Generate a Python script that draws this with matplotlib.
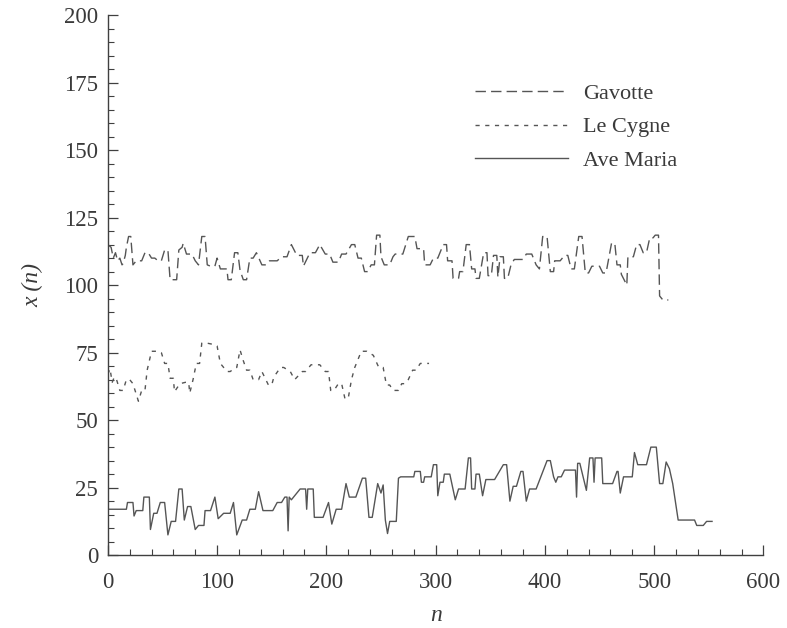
import matplotlib
matplotlib.use("Agg")
import matplotlib.pyplot as plt
from matplotlib.ticker import MultipleLocator

# ---- data ----
gav_n = [0, 3, 5, 7, 9, 11, 13, 14, 16, 17, 19, 21, 23, 26, 31, 34, 37, 40, 43, 46, 49, 52, 55, 57, 63,
         65, 68, 69, 72, 77, 80, 83, 86, 89, 91, 94, 98, 100, 103, 109, 110, 113, 116, 119, 121, 124, 127,
         130, 133, 136, 141, 145, 148, 155, 159, 164, 168, 173, 178, 179, 185, 190, 194, 199, 203, 206, 211,
         214, 218, 223, 226, 229, 232, 235, 238, 241, 244, 246, 249, 250, 253, 258, 261, 263, 270, 275, 281,
         283, 289, 290, 295, 298, 302, 307, 310, 311, 315, 316, 321, 322, 325, 328, 331, 333, 336, 337, 340,
         344, 347, 348, 351, 353, 356, 357, 359, 362, 363, 366, 369, 372, 380, 383, 388, 392, 395, 398, 402,
         405, 408, 409, 414, 418, 421, 424, 427, 431, 434, 437, 440, 443, 450, 453, 456, 461, 464, 466, 469,
         470, 475, 476, 481, 484, 487, 490, 493, 496, 499, 501, 504, 505, 508, 513]
gav_x = [115, 114, 110, 112, 109, 110, 107.5, 108, 111, 114, 118, 118, 107.5, 109, 109, 112, 112, 110, 110,
         109, 109, 113, 113, 102, 102, 113, 114, 115.5, 111.5, 111.5, 109, 107.5, 118, 118, 107.5, 107, 107,
         110, 106, 106, 102, 102, 112, 112, 105.5, 102, 102, 110, 110, 112, 107.5, 107.5, 109, 109, 110.5,
         110.5, 115, 111, 111, 107, 112, 112, 115, 111.5, 111.5, 108.5, 108.5, 111.5, 111.5, 115, 115, 110,
         110, 105, 105, 107.5, 107.5, 118.5, 118.5, 110.5, 107.5, 107.5, 110.5, 111.5, 111.5, 118, 118,
         113.5, 113.5, 107.5, 107.5, 110, 110, 115, 115, 109, 109, 102.5, 102.5, 105, 105, 115, 115, 106,
         106, 102.5, 102.5, 112, 112, 103.5, 103.5, 111, 111, 103, 110.5, 110.5, 102.5, 102.5, 107.5, 109.5,
         109.5, 111.5, 111.5, 107.5, 106, 118, 118, 105, 105, 109, 109, 111, 111, 106, 106, 118, 118, 104.5,
         104.5, 107, 107, 104.5, 104.5, 115.5, 115.5, 107.5, 107.5, 104, 100, 110.5, 110.5, 115, 115, 112,
         112, 117.5, 117.5, 118.5, 118.5, 96, 94.5, 94.5]

cyg_n = [0, 2, 4, 6, 8, 11, 14, 17, 20, 23, 28, 31, 34, 36, 40, 43, 46, 49, 52, 55, 57, 60, 61, 66, 71, 74,
         75, 78, 81, 84, 86, 91, 97, 100, 103, 109, 112, 117, 118, 121, 124, 127, 130, 133, 138, 141, 147,
         150, 152, 158, 161, 167, 171, 178, 181, 186, 194, 199, 202, 204, 207, 211, 214, 217, 220, 223, 226,
         232, 237, 243, 248, 252, 255, 258, 261, 266, 269, 272, 275, 279, 282, 286, 294]
cyg_x = [67, 69, 64, 66, 65, 61, 61, 65, 65, 63.5, 57, 61, 61, 68.5, 75.5, 75.5, 75.5, 75, 71, 71, 65.5,
         65.5, 60.5, 63.5, 64, 64, 60, 65, 71, 71, 78.5, 78.5, 78, 77.5, 71, 68, 68, 69.5, 69.5, 76, 72,
         68.5, 68.5, 65, 65, 68, 63, 63, 66, 69.5, 69.5, 68, 65, 68, 68, 70.5, 70.5, 68, 68, 61, 61, 63.5,
         63.5, 58, 58, 65, 69.5, 75.5, 75.5, 74, 69.5, 69.5, 63, 63, 61, 61, 63.5, 63.5, 65, 68.5, 68.5,
         71, 71]

ave_n = [0, 17, 18, 23, 24, 26, 32, 33, 38, 39, 42, 45, 48, 52, 55, 58, 62, 65, 68, 70, 73, 76, 80, 83,
         88, 89, 94, 98, 101, 106, 112, 115, 118, 123, 127, 130, 135, 138, 142, 151, 155, 159, 162, 164,
         165, 166, 168, 176, 181, 182, 183, 188, 189, 197, 202, 205, 209, 214, 218, 221, 227, 233, 236,
         239, 242, 247, 250, 252, 254, 256, 258, 264, 266, 268, 280, 281, 286, 287, 289, 290, 296, 298,
         301, 302, 304, 307, 308, 313, 318, 321, 327, 330, 332, 333, 336, 337, 340, 343, 346, 354, 362,
         365, 368, 371, 374, 378, 380, 383, 386, 392, 402, 405, 408, 410, 412, 415, 418, 428, 429, 430,
         432, 438, 441, 444, 445, 446, 452, 453, 462, 466, 467, 469, 472, 480, 482, 485, 493, 497, 502,
         505, 508, 511, 514, 517, 522, 537, 539, 545, 548, 553]
ave_x = [17, 17, 19.5, 19.5, 14.5, 16.5, 16.5, 21.5, 21.5, 9.5, 15.5, 15.5, 19.5, 19.5, 7.5, 12.5, 12.5,
         24.5, 24.5, 13, 18, 18, 9.5, 11, 11, 16.5, 16.5, 21.5, 13.5, 15.5, 15.5, 19.5, 7.5, 13, 13, 17,
         17, 23.5, 16.5, 16.5, 19.5, 19.5, 21.5, 21.5, 9, 21.5, 20.5, 24.5, 24.5, 17, 24.5, 24.5, 14, 14,
         19.5, 11.5, 17, 17, 26.5, 21.5, 21.5, 28.5, 28.5, 14, 14, 26.5, 23, 26, 13, 8, 12.5, 12.5, 28.5,
         29, 29, 31, 31, 27, 27, 29, 29, 33.5, 33.5, 22, 27, 27, 30, 30, 20.5, 24.5, 24.5, 36, 36, 24.5,
         24.5, 30, 30, 22, 28, 28, 33.5, 33.5, 20, 25.5, 25.5, 31, 31, 20, 24.5, 24.5, 35, 35, 29, 27, 29,
         29, 31.5, 31.5, 21.5, 34, 34, 24, 36, 36, 27, 36, 36, 26.5, 26.5, 31, 31, 23, 29, 29, 38, 33.5,
         33.5, 40, 40, 26.5, 26.5, 34.5, 32, 26.5, 13, 13, 11, 11, 12.5, 12.5]

series_names = ["Gavotte", "Le Cygne", "Ave Maria"]
x_ticks = [0, 100, 200, 300, 400, 500, 600]
y_ticks = [0, 25, 50, 75, 100, 125, 150, 175, 200]

# ---- figure ----
plt.rcParams['font.family'] = ['Liberation Serif', 'DejaVu Serif']
fig = plt.figure(figsize=(7.87, 6.28), dpi=100)
ax = fig.add_axes([0.137, 0.116, 0.833, 0.860])

col = "#555555"
ax.plot(gav_n, gav_x, color=col, lw=1.0, linestyle=(0, (7.5, 3.7)), label=series_names[0])
ax.plot(cyg_n, cyg_x, color=col, lw=1.0, linestyle=(0, (3.0, 4.0)), label=series_names[1])
ax.plot(ave_n, ave_x, color=col, lw=1.0, linestyle='-', label=series_names[2])

ax.set_xlim(0, 600)
ax.set_ylim(0, 200)
ax.set_xticks(x_ticks)
ax.set_yticks(y_ticks)
ax.xaxis.set_minor_locator(MultipleLocator(20))
ax.yaxis.set_minor_locator(MultipleLocator(5))
ax.tick_params(which='both', direction='in', colors='#404040', labelcolor='#3a3a3a', labelsize=16.5)
ax.tick_params(which='major', length=7, width=0.9)
ax.tick_params(which='minor', length=4, width=0.8)
ax.tick_params(axis='x', which='major', pad=12)
ax.tick_params(axis='y', which='major', pad=7)
for s in ['top', 'right']:
    ax.spines[s].set_visible(False)
for s in ['left', 'bottom']:
    ax.spines[s].set_color('#404040')
    ax.spines[s].set_linewidth(1.0)

ax.set_xlabel("n", fontstyle='italic', fontsize=17, color='#3a3a3a', labelpad=9)
ax.set_ylabel("x (n)", fontstyle='italic', fontsize=17, color='#3a3a3a', labelpad=15)

leg = ax.legend(loc='upper left', bbox_to_anchor=(0.56, 0.873), frameon=False,
                handlelength=4.2, handletextpad=0.65, labelspacing=0.57, fontsize=16,
                borderpad=0, borderaxespad=0)
for t in leg.get_texts():
    t.set_color('#3a3a3a')

fig.savefig("out.png", dpi=100)
